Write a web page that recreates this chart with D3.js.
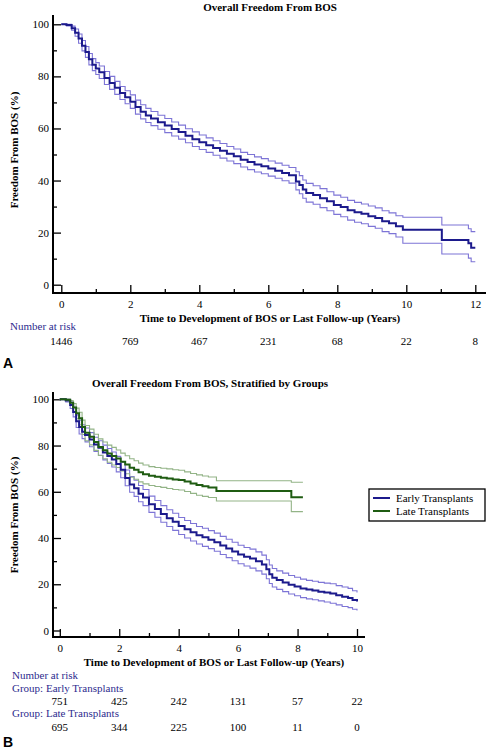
<!DOCTYPE html>
<html><head><meta charset="utf-8">
<script src="https://cdn.jsdelivr.net/npm/d3@7"></script>
<style>
html,body{margin:0;padding:0;background:#fff;}
svg{display:block;}
text{font-family:"Liberation Serif","Times New Roman",serif;}
text.panel-letter{font-family:"Liberation Sans",Arial,sans-serif;}
</style></head>
<body><svg id="c" width="488" height="750"></svg>
<script>
// ---------- Panel A data ----------
const timesA = [0,0.15,0.3,0.4,0.5,0.6,0.7,0.8,0.9,1.0,1.1,1.25,1.4,1.55,1.7,1.85,2.0,2.15,2.3,2.45,2.6,2.8,3.0,3.2,3.4,3.6,3.8,4.0,4.2,4.4,4.6,4.8,5.0,5.2,5.4,5.6,5.8,6.0,6.2,6.4,6.6,6.8,6.9,7.0,7.1,7.3,7.5,7.7,7.9,8.1,8.3,8.5,8.7,8.9,9.1,9.3,9.5,9.7,9.9,11.03,11.8,11.88,12.0];
const survA = [100,99.7,98.5,96.8,94.5,91.8,89.4,86.6,84.5,83,81.6,79.4,77.5,75.6,73.6,72,70.3,68.2,66.4,65,63.8,62.4,61.1,59.8,58.6,57.2,55.9,54.7,53.6,52.5,51.4,50.3,49.3,48,47.1,46.2,45.5,44.6,43.8,42.9,42,39.6,38.3,36.6,35.2,34.4,33.2,32,30.6,29.8,28.6,27.8,27.2,26.3,25.6,24.4,23.6,22.4,21.1,17.2,15.9,14.2,14.2];
const upperA = [100,100,99.3,98.2,96.3,93.8,91.5,88.8,86.8,85.3,84,81.9,80,78.1,76.1,74.5,72.9,70.9,69.1,67.7,66.5,65.1,63.8,62.5,61.3,59.9,58.7,57.5,56.4,55.3,54.2,53.1,52.1,50.8,50,49.1,48.4,47.5,46.7,45.9,45,43.4,41.9,40.2,38.9,38,36.9,35.7,34.4,33.6,32.4,31.6,31,30.2,29.5,28.4,27.6,26.5,25.9,22.9,21.5,20.4,20.4];
const lowerA = [100,99.4,97.7,95.4,92.7,89.8,87.3,84.4,82.2,80.7,79.2,76.9,75,73.1,71.1,69.5,67.7,65.5,63.7,62.3,61.1,59.7,58.4,57.1,55.9,54.5,53.1,51.9,50.8,49.7,48.6,47.5,46.5,45.2,44.2,43.3,42.6,41.7,40.9,39.9,39,36.4,34.9,33.2,31.7,30.9,29.6,28.4,27,26.1,24.8,24,23.4,22.4,21.7,20.4,19.6,18.3,15.9,11.8,10.2,8.8,8.8];
const riskTimesA = [0,2,4,6,8,10,12];
const riskA = [1446,769,467,231,68,22,8];

// ---------- Panel B data ----------
const timesEarly = [0,0.2,0.35,0.45,0.55,0.65,0.75,0.85,1.0,1.15,1.3,1.45,1.6,1.75,1.9,2.05,2.2,2.35,2.5,2.65,2.8,3.0,3.2,3.4,3.6,3.8,4.0,4.2,4.4,4.6,4.8,5.0,5.2,5.4,5.6,5.8,6.0,6.2,6.4,6.6,6.8,6.95,7.05,7.15,7.3,7.5,7.7,7.9,8.1,8.3,8.5,8.7,8.9,9.1,9.3,9.5,9.7,9.85,10.0];
const survEarly = [100,99.5,97.5,94.5,90.5,88,86,84.6,82.6,80.5,79,77,75.5,74,72,69.5,66,63.2,61.5,59.2,57.5,54.6,52.6,50.4,48.6,47,45.2,43.8,42.5,41.2,40.3,39.3,38.2,36.8,35.5,34.2,32.9,31.9,31.1,29.9,28.5,26.5,24.3,22.8,21.8,20.8,19.8,19,18.2,17.7,17.3,16.8,16.4,16,15.2,14.6,14.1,13.2,12.5];
const upperEarly = [100,100,98.8,96.5,93.2,91,89,87.6,85.6,83.6,82.1,80.2,78.7,77.2,75.3,72.8,69.4,66.6,65,62.7,61,58.1,56.2,54,52.2,50.7,48.9,47.6,46.3,45,44.2,43.2,42.1,40.7,39.5,38.2,36.9,35.9,35.2,34,32.6,30.6,28.3,26.8,25.8,24.8,23.8,23,22.2,21.7,21.3,20.8,20.5,20.2,19.4,18.8,18.2,17.2,16.4];
const lowerEarly = [100,98.8,96,92.4,87.8,85,83,81.6,79.5,77.4,75.8,73.8,72.2,70.7,68.6,66.1,62.6,59.8,58,55.7,54,51.1,49,46.8,45,43.3,41.5,40,38.7,37.4,36.4,35.4,34.3,32.9,31.5,30.2,28.9,27.9,27,25.8,24.4,22.4,20.3,18.8,17.8,16.8,15.8,15,14.2,13.7,13.3,12.8,12.3,11.8,11.1,10.4,9.9,9.2,8.6];

const timesLate = [0,0.2,0.35,0.45,0.55,0.65,0.75,0.85,1.0,1.15,1.3,1.45,1.6,1.75,1.9,2.05,2.2,2.35,2.5,2.65,2.8,3.0,3.2,3.4,3.6,3.8,4.0,4.2,4.4,4.6,4.8,5.0,5.27,7.79,8.18];
const survLate = [100,99.8,98.5,96.5,94,91.8,88,85.5,83.8,81.5,79.4,78,76.6,75.5,74.4,73,71.8,70.4,69.5,68.4,67.6,66.9,66.5,66.1,65.7,65.3,65.1,64.4,63.6,62.9,62.4,61.9,60.3,57.6,57.6];
const upperLate = [100,100,99.5,98.2,96.2,94.4,91,88.7,87.1,84.9,82.9,81.5,80.2,79.2,78.1,76.7,75.6,74.3,73.4,72.4,71.6,70.9,70.5,70.2,69.9,69.5,69.3,68.6,67.9,67.3,66.8,66.4,64.8,64.1,64.1];
const lowerLate = [100,99.3,97.3,94.6,91.6,89,84.8,82.1,80.3,77.9,75.7,74.3,72.8,71.6,70.5,69,67.8,66.3,65.4,64.3,63.4,62.7,62.3,61.9,61.4,61,60.8,60.1,59.3,58.5,58,57.5,56,51.4,51.4];

const riskTimesB = [0,2,4,6,8,10];
const riskEarly = [751,425,242,131,57,22];
const riskLate = [695,344,225,100,11,0];

const groups = ["Early Transplants","Late Transplants"];
const yTicks = [0,20,40,60,80,100];
const yMinor = [10,30,50,70,90];

// ---------- styles ----------
const BLUE = "#1c1a8c", BLUE_CI = "#7d74d6";
const GREEN = "#1f5c12", GREEN_CI = "#93b487";
const NAVY_TXT = "#2d2b8e";

const svg = d3.select("#c");

function panel(cfg){
  const g = svg.append("g");
  const x = d3.scaleLinear().domain([0, cfg.xMax]).range(cfg.xRange);
  const y = d3.scaleLinear().domain([0,100]).range(cfg.yRange);

  g.append("text").attr("x", cfg.titleX).attr("y", cfg.titleY)
    .attr("text-anchor","middle").attr("font-size",11).attr("font-weight","bold")
    .text(cfg.title);

  g.append("line").attr("x1",cfg.axisX).attr("x2",cfg.axisX)
    .attr("y1",cfg.axisTop).attr("y2",cfg.axisY+1).attr("stroke","#000").attr("stroke-width",2);
  g.append("line").attr("x1",cfg.axisX-1).attr("x2",cfg.axisRight)
    .attr("y1",cfg.axisY).attr("y2",cfg.axisY).attr("stroke","#000").attr("stroke-width",2);

  const ya = g.append("g").attr("transform",`translate(${cfg.axisX},0)`)
    .call(d3.axisLeft(y).tickValues(yTicks).tickSize(-8).tickPadding(4).tickSizeOuter(0));
  ya.select(".domain").remove();
  ya.selectAll("line").attr("stroke-width",1.3);
  ya.selectAll("text").attr("font-size",11).attr("fill","#000");
  const ym = g.append("g").attr("transform",`translate(${cfg.axisX},0)`)
    .call(d3.axisLeft(y).tickValues(yMinor).tickSize(-4).tickFormat("").tickSizeOuter(0));
  ym.select(".domain").remove();
  ym.selectAll("line").attr("stroke-width",1.3);

  const majors = d3.range(0, cfg.xMax+0.001, 2);
  const minors = d3.range(1, cfg.xMax, 2);
  const xa = g.append("g").attr("transform",`translate(0,${cfg.axisY})`)
    .call(d3.axisBottom(x).tickValues(majors).tickSize(-8).tickPadding(7).tickSizeOuter(0));
  xa.select(".domain").remove();
  xa.selectAll("line").attr("stroke-width",1.3);
  xa.selectAll("text").attr("font-size",11).attr("fill","#000").attr("dy","0.71em");
  const xm = g.append("g").attr("transform",`translate(0,${cfg.axisY})`)
    .call(d3.axisBottom(x).tickValues(minors).tickSize(-4).tickFormat("").tickSizeOuter(0));
  xm.select(".domain").remove();
  xm.selectAll("line").attr("stroke-width",1.3);

  g.append("text").attr("x", cfg.xLabelX).attr("y", cfg.xLabelY)
    .attr("text-anchor","middle").attr("font-size",11).attr("font-weight","bold")
    .text("Time to Development of BOS or Last Follow-up (Years)");
  g.append("text").attr("transform",`translate(18,${cfg.yLabelY}) rotate(-90)`)
    .attr("text-anchor","middle").attr("font-size",11).attr("font-weight","bold")
    .text("Freedom From BOS (%)");

  const line = d3.line().x(d=>x(d[0])).y(d=>y(d[1])).curve(d3.curveStepAfter);
  cfg.series.forEach(s=>{
    [s.upper, s.lower].forEach(arr=>{
      g.append("path").attr("d", line(s.times.map((t,i)=>[t,arr[i]])))
        .attr("fill","none").attr("stroke",s.ciColor).attr("stroke-width",1.1);
    });
  });
  cfg.series.forEach(s=>{
    g.append("path").attr("d", line(s.times.map((t,i)=>[t,s.surv[i]])))
      .attr("fill","none").attr("stroke",s.color).attr("stroke-width",2);
  });
  return {x,y,g};
}

// ---------- Panel A ----------
const A = panel({
  title:"Overall Freedom From BOS", titleX:270, titleY:11,
  xMax:12, xRange:[61.3,475.3], yRange:[284.7,24.3],
  axisX:53, axisY:293, axisTop:15, axisRight:486,
  xLabelX:270, xLabelY:322, yLabelY:150,
  series:[{times:timesA, surv:survA, upper:upperA, lower:lowerA, color:BLUE, ciColor:BLUE_CI}]
});
svg.append("text").attr("x",10).attr("y",330).attr("font-size",11).attr("fill",NAVY_TXT).text("Number at risk");
svg.append("g").selectAll("text").data(riskA).join("text")
  .attr("x",(d,i)=>A.x(riskTimesA[i])).attr("y",345).attr("text-anchor","middle")
  .attr("font-size",11).text(d=>d);
svg.append("text").attr("class","panel-letter").attr("x",3).attr("y",368)
  .attr("font-weight","bold").attr("font-size",14).text("A");

// ---------- Panel B ----------
const B = panel({
  title:"Overall Freedom From BOS, Stratified by Groups", titleX:210, titleY:387,
  xMax:10, xRange:[59.8,357], yRange:[630.5,399.3],
  axisX:53, axisY:637, axisTop:392, axisRight:365,
  xLabelX:214, xLabelY:666, yLabelY:515,
  series:[
    {times:timesEarly, surv:survEarly, upper:upperEarly, lower:lowerEarly, color:BLUE, ciColor:BLUE_CI},
    {times:timesLate, surv:survLate, upper:upperLate, lower:lowerLate, color:GREEN, ciColor:GREEN_CI}
  ]
});

const lg = svg.append("g");
lg.append("rect").attr("x",369).attr("y",489).attr("width",116).attr("height",32)
  .attr("fill","#fff").attr("stroke","#000").attr("stroke-width",1.3);
const legColors = [BLUE, GREEN];
groups.forEach((gname,i)=>{
  const yy = 498 + i*13;
  lg.append("line").attr("x1",373).attr("x2",390).attr("y1",yy).attr("y2",yy)
    .attr("stroke",legColors[i]).attr("stroke-width",2);
  lg.append("text").attr("x",396).attr("y",yy+4).attr("font-size",11).text(gname);
});

svg.append("text").attr("x",12).attr("y",679).attr("font-size",11).attr("fill",NAVY_TXT).text("Number at risk");
svg.append("text").attr("x",12).attr("y",692).attr("font-size",11).attr("fill",NAVY_TXT).text("Group: " + groups[0]);
svg.append("g").selectAll("text").data(riskEarly).join("text")
  .attr("x",(d,i)=>B.x(riskTimesB[i])).attr("y",705).attr("text-anchor","middle")
  .attr("font-size",11).text(d=>d);
svg.append("text").attr("x",12).attr("y",717).attr("font-size",11).attr("fill",NAVY_TXT).text("Group: " + groups[1]);
svg.append("g").selectAll("text").data(riskLate).join("text")
  .attr("x",(d,i)=>B.x(riskTimesB[i])).attr("y",731).attr("text-anchor","middle")
  .attr("font-size",11).text(d=>d);
svg.append("text").attr("class","panel-letter").attr("x",3).attr("y",747)
  .attr("font-weight","bold").attr("font-size",14).text("B");
</script></body></html>
